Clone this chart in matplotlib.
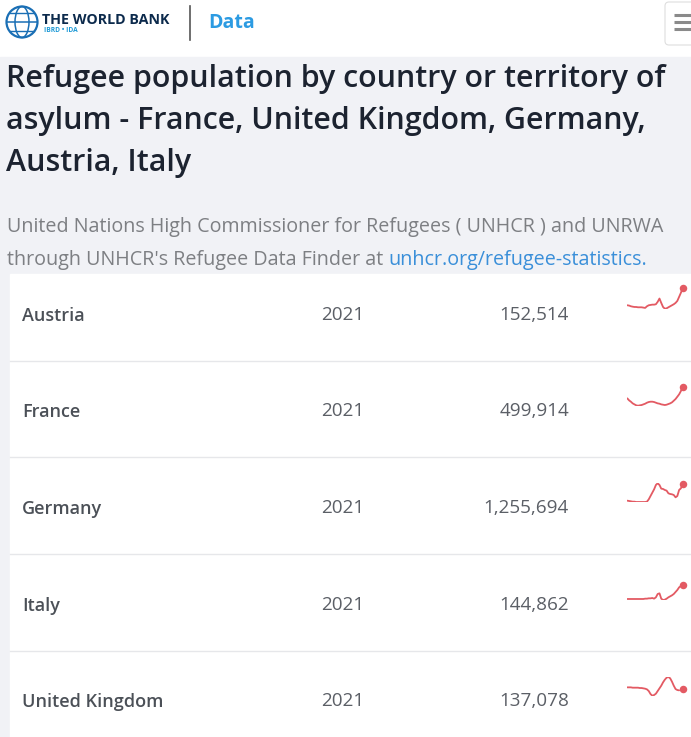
import matplotlib as mpl
mpl.use('Agg')
import matplotlib.pyplot as plt
from matplotlib.patches import Rectangle, Circle, Ellipse, FancyBboxPatch
import numpy as np

plt.rcParams['font.family'] = ['Open Sans', 'DejaVu Sans']

countries = ['Austria', 'France', 'Germany', 'Italy', 'United Kingdom']
years = ['2021', '2021', '2021', '2021', '2021']
latest = ['152,514', '499,914', '1,255,694', '144,862', '137,078']

austria = [44, 42, 37.5, 35, 33, 33, 31, 31, 31, 29, 27, 37.5, 44, 46, 48, 48,
           50.5, 66, 87, 59, 33, 22, 24.5, 31, 37.5, 44, 50.5, 59, 72, 98, 124, 152.514]
france = [273, 234, 208, 175.5, 156, 137, 130, 137, 143, 156, 169, 188.5, 201.5, 208, 208, 201.5,
          188.5, 175.5, 169, 156, 149.5, 143, 149.5, 162.5, 175.5, 195, 227, 260, 305, 351, 415.6, 499.914]
germany = [187.5, 165.7, 143.9, 122.1, 122.1, 100.3, 100.3, 100.3, 100.3, 100.3, 100.3, 122.1,
           274.7, 492.7, 710.7, 928.7, 1212, 1321, 1212, 972, 950.5, 885, 841.5, 667, 623.5, 601.7,
           558, 405.5, 492.7, 885, 994, 1255.694]
italy = [14.3, 14.3, 14.3, 14.3, 14.3, 14.3, 14.3, 14.3, 14.3, 14.3, 17.4, 17.4, 20.5, 20.5, 23.6,
         17.4, 29.8, 60.9, 67.2, 17.4, 4.9, 8.1, 17.4, 29.8, 39.2, 48.5, 60.9, 79.6, 98.3, 123.1, 135.6, 144.862]
uk = [167.7, 167.7, 167.7, 162.6, 162.6, 162.6, 162.6, 157.5, 157.5, 152.4, 147.3, 137.1, 111.6,
      65.7, 40.2, 50.4, 70.8, 111.6, 152.4, 193.2, 244.2, 285, 315.6, 325.8, 305.4, 254.4, 193.2,
      142.2, 126.9, 121.8, np.nan, 137.078]
series = [austria, france, germany, italy, uk]

W, H = 691, 737
fig = plt.figure(figsize=(W / 100, H / 100), dpi=100)
ax = fig.add_axes([0, 0, 1, 1])
ax.set_xlim(0, W)
ax.set_ylim(H, 0)
ax.axis('off')

# page background
ax.add_patch(Rectangle((0, 57), W, H - 57, color='#f1f2f6', zorder=0))
ax.add_patch(Rectangle((10, 274), W - 10, H - 274, color='white', zorder=1))

# header: logo
ax.add_patch(Circle((22, 22), 15.5, fill=False, ec='#1a6fb5', lw=1.6, zorder=3))
ax.add_patch(Ellipse((22, 22), 14, 31, fill=False, ec='#1a6fb5', lw=1.1, zorder=3))
ax.plot([7, 37], [22, 22], color='#1a6fb5', lw=1.1, zorder=3)
ax.plot([10, 34], [13, 13], color='#1a6fb5', lw=1.0, zorder=3)
ax.plot([10, 34], [31, 31], color='#1a6fb5', lw=1.0, zorder=3)
ax.text(42, 20, 'THE WORLD BANK', fontsize=10.3, fontweight='bold', color='#0c2a4c',
        va='center', ha='left', zorder=3)
ax.text(44, 30.5, 'IBRD • IDA', fontsize=4.8, fontweight='bold', color='#1f9ad6',
        va='center', ha='left', zorder=3)
ax.plot([190, 190], [6, 40], color='#555555', lw=1.2)
ax.text(208, 23, 'Data', fontsize=14, fontweight='bold', color='#2c9be2', va='center', ha='left')

# hamburger button
ax.add_patch(FancyBboxPatch((665, 2), 40, 43, boxstyle='round,pad=0,rounding_size=4',
                            fc='white', ec='#dedede', lw=0.8, zorder=3))
for yy in (15, 22, 29):
    ax.plot([674, 691], [yy, yy], color='#8a8a8a', lw=2.2, zorder=4, solid_capstyle='butt')

# title and source
title = ['Refugee population by country or territory of',
         'asylum - France, United Kingdom, Germany,',
         'Austria, Italy']
for i, line in enumerate(title):
    ax.text(6, 79 + 42 * i, line, fontsize=21.85, fontweight='semibold', color='#1c2330',
            va='center', ha='left')

ax.text(7, 227, 'United Nations High Commissioner for Refugees ( UNHCR ) and UNRWA',
        fontsize=14.2, color='#7d7f83', va='center', ha='left')
t = ax.text(7, 260, "through UNHCR's Refugee Data Finder at ", fontsize=14.2, color='#7d7f83',
            va='center', ha='left')
fig.canvas.draw()
bb = t.get_window_extent().transformed(ax.transData.inverted())
ax.text(bb.x1, 260, 'unhcr.org/refugee-statistics.', fontsize=14.2, color='#3a8fd9',
        va='center', ha='left')

# table rows
row_y = [313, 409, 506, 603, 699]
spark_box = [(288.3, 308.7), (386.7, 405.7), (483.3, 502), (585, 600), (677, 695.7)]
for i, name in enumerate(countries):
    y = row_y[i]
    ax.text(22, y + 3, name, fontsize=13, color='#4b5057', va='center', ha='left', fontweight='semibold')
    ax.text(343, y + 2, years[i], fontsize=13.6, color='#5b5f66', va='center', ha='center')
    ax.text(569, y + 2, latest[i], fontsize=13.6, color='#5b5f66', va='center', ha='right')
    if i < len(countries) - 1:
        ax.plot([10, W], [y + 48, y + 48], color='#e6e7ea', lw=1.0, zorder=2)

    top, bot = spark_box[i]
    x0, x1 = 627.3, 682.7
    sa = fig.add_axes([x0 / W, 1 - bot / H, (x1 - x0) / W, (bot - top) / H])
    vals = np.array(series[i], dtype=float)
    xs = np.arange(len(vals))
    sa.plot(xs, vals, color='#e35a63', lw=1.3, solid_joinstyle='round', solid_capstyle='round')
    sa.plot(xs[-1], vals[-1], 'o', color='#e35a63', ms=5.4, mec='none', clip_on=False)
    sa.set_xlim(0, len(vals) - 1)
    sa.set_ylim(np.nanmin(vals), np.nanmax(vals))
    sa.axis('off')

plt.savefig('out.png', dpi=100)
